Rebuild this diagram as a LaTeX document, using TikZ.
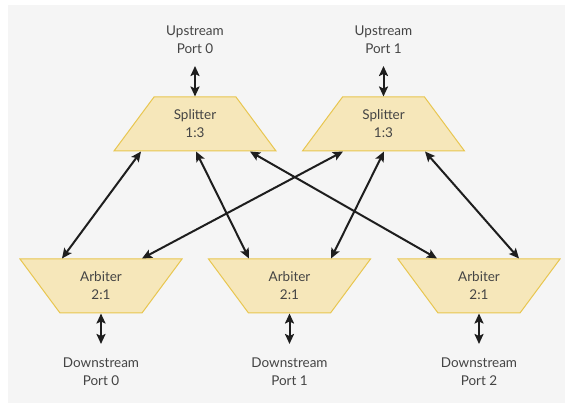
\documentclass[tikz,border=0pt]{standalone}
\usepackage{fontspec}
\setmainfont{Lato}
\usetikzlibrary{arrows.meta}
\definecolor{bgc}{HTML}{F5F5F5}
\definecolor{trapfill}{HTML}{F6E7BA}
\definecolor{trapline}{HTML}{E8C650}
\definecolor{txt}{HTML}{444444}
\definecolor{arrc}{HTML}{1E1E1E}
\tikzset{
  trapbox/.style={fill=trapfill,draw=trapline,line width=1pt,line join=miter},
  lbl/.style={align=center,inner sep=0pt,text=txt,font=\fontsize{13.5pt}{18pt}\selectfont},
  arr/.style={draw=arrc,line width=2pt,{Stealth[length=10pt,width=9pt,inset=2pt]}-{Stealth[length=10pt,width=9pt,inset=2pt]}}
}
\newcommand\splitterbox[2]{%
  \path[trapbox] (#2-81,151) -- (#2-41,97) -- (#2+41,97) -- (#2+81,151) -- cycle;
  \node[lbl] (#1) at (#2,123.5) {Splitter\\1:3};}
\newcommand\arbiterbox[2]{%
  \path[trapbox] (#2-81,259) -- (#2+81,259) -- (#2+41,313) -- (#2-41,313) -- cycle;
  \node[lbl] (#1) at (#2,285.5) {Arbiter\\2:1};}
\begin{document}
\begin{tikzpicture}[x=1pt,y=-1pt]
\useasboundingbox (0,0) rectangle (565,403);
\fill[bgc] (8,5) rectangle (565,403);
% splitters
\splitterbox{s0}{195}
\splitterbox{s1}{383.5}
% arbiters
\arbiterbox{a0}{101}
\arbiterbox{a1}{289.5}
\arbiterbox{a2}{479}
% port labels
\node[lbl] (u0) at (195,40) {Upstream\\Port 0};
\node[lbl] (u1) at (383.5,40) {Upstream\\Port 1};
\node[lbl] (d0) at (101,371.5) {Downstream\\Port 0};
\node[lbl] (d1) at (289.5,371.5) {Downstream\\Port 1};
\node[lbl] (d2) at (479,371.5) {Downstream\\Port 2};
% connector end points
\coordinate (u0b) at (195,66);   \coordinate (s0t) at (195,96.5);
\coordinate (u1b) at (383.5,66); \coordinate (s1t) at (383.5,96.5);
\coordinate (a0b) at (101,313.5);   \coordinate (d0t) at (101,344);
\coordinate (a1b) at (289.5,313.5); \coordinate (d1t) at (289.5,344);
\coordinate (a2b) at (479,313.5);   \coordinate (d2t) at (479,344);
\coordinate (s0p1) at (141,151.5); \coordinate (s0p2) at (196,151.5); \coordinate (s0p3) at (250,151.5);
\coordinate (s1p1) at (343,151.5); \coordinate (s1p2) at (384,151.5); \coordinate (s1p3) at (425,151.5);
\coordinate (a0p1) at (62,258.5);  \coordinate (a0p2) at (142,258.5);
\coordinate (a1p1) at (249,258.5); \coordinate (a1p2) at (331,258.5);
\coordinate (a2p1) at (437,258.5); \coordinate (a2p2) at (519,258.5);
% connectors
\draw[arr] (u0b) -- (s0t);
\draw[arr] (u1b) -- (s1t);
\draw[arr] (a0b) -- (d0t);
\draw[arr] (a1b) -- (d1t);
\draw[arr] (a2b) -- (d2t);
\draw[arr] (s0p1) -- (a0p1);
\draw[arr] (s0p2) -- (a1p1);
\draw[arr] (s0p3) -- (a2p1);
\draw[arr] (s1p1) -- (a0p2);
\draw[arr] (s1p2) -- (a1p2);
\draw[arr] (s1p3) -- (a2p2);
\end{tikzpicture}
\end{document}
